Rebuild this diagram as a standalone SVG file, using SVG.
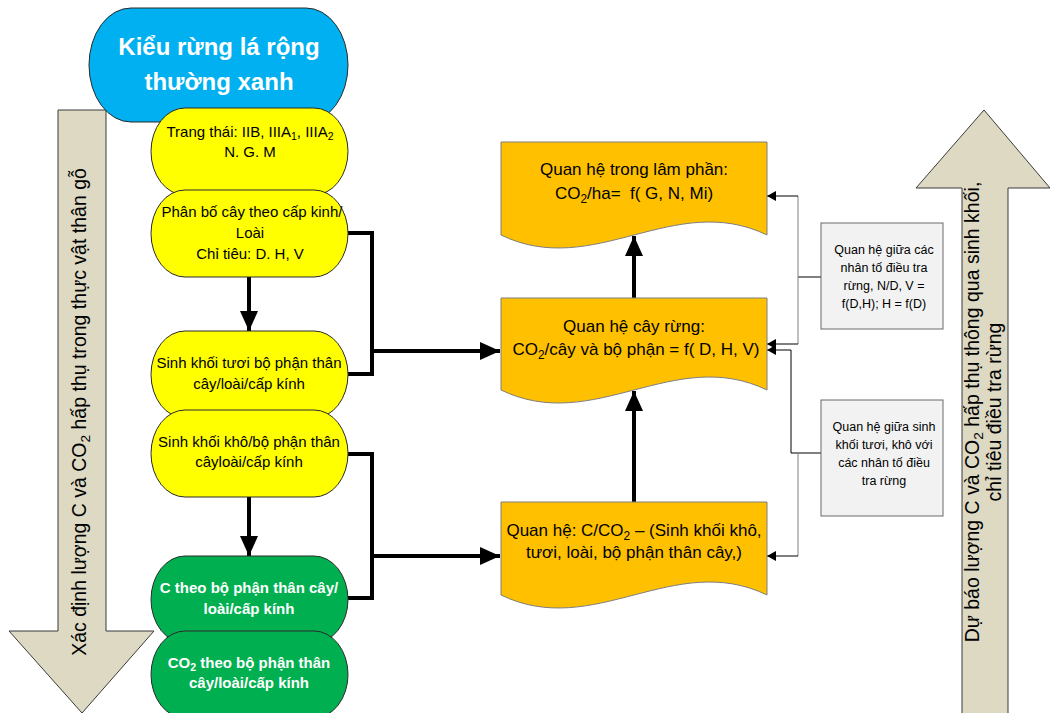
<svg xmlns="http://www.w3.org/2000/svg" width="1050" height="713" viewBox="0 0 1050 713">
<style>
text{font-family:"Liberation Sans",Arial,sans-serif;text-anchor:middle}
.big{fill:#DDD9C3;stroke:#3a3a3a;stroke-width:1}
.term{stroke:#2a2a2a;stroke-width:1}
.blue{fill:#00B0F0}
.yel{fill:#FFFF00}
.grn{fill:#00B050}
.doc{fill:#FFC000;stroke:#7f7f7f;stroke-width:1}
.gbox{fill:#F2F2F2;stroke:#6a6a6a;stroke-width:1}
.t15{font-size:15px;fill:#000}
.w15{font-size:15px;font-weight:bold;fill:#fff}
.t17{font-size:17px;fill:#000}
.t11{font-size:12.5px;fill:#000}
.side{font-size:19.5px;fill:#000}
.sub{font-size:70%}
.thick{fill:none;stroke:#000;stroke-width:4}
.thin{fill:none;stroke:#000;stroke-width:1}
.thing{fill:none;stroke:#808080;stroke-width:1}
</style>
<defs>
<marker id="ah" markerUnits="userSpaceOnUse" markerWidth="20" markerHeight="20" viewBox="0 0 20 20" refX="20" refY="10" orient="auto">
<path d="M0,1 L20,10 L0,19 Z" fill="#000"/>
</marker>
<marker id="as" markerUnits="userSpaceOnUse" markerWidth="9" markerHeight="10" viewBox="0 0 9 10" refX="9" refY="5" orient="auto">
<path d="M0,0 L9,5 L0,10 Z" fill="#000"/>
</marker>
</defs>

<g id="arrow-left">
<polygon class="big" points="58,110 106,110 106,631 154,631 82,713 9,631 58,631"/>
<text class="side" transform="translate(86,412) rotate(-90)">Xác định lượng C và CO<tspan class="sub" dy="4">2</tspan><tspan dy="-4"> hấp thụ trong thực vật thân gỗ</tspan></text>
</g>
<g id="arrow-right">
<polygon class="big" points="984,110 1050,188 1008,188 1008,720 962,720 962,188 916,188"/>
<text class="side" transform="translate(979,412) rotate(-90)">Dự báo lượng C và CO<tspan class="sub" dy="4">2</tspan><tspan dy="-4"> hấp thụ thông qua sinh khối,</tspan></text>
<text class="side" transform="translate(1001,412) rotate(-90)">chỉ tiêu điều tra rừng</text>
</g>

<g id="connectors">
<path class="thick" d="M348,233 H372 V374 H348"/>
<path class="thick" d="M372,351 H500" marker-end="url(#ah)"/>
<path class="thick" d="M348,454 H372 V598 H348"/>
<path class="thick" d="M372,556 H500" marker-end="url(#ah)"/>
<path class="thick" d="M249,277 V331" marker-end="url(#ah)"/>
<path class="thick" d="M249,497 V556" marker-end="url(#ah)"/>
<path class="thick" d="M634,298 V236" marker-end="url(#ah)"/>
<path class="thick" d="M634,502 V391" marker-end="url(#ah)"/>
<path class="thin" d="M821,277 H798"/>
<path class="thing" d="M798,196 V344"/>
<path class="thin" d="M798,196 H767" marker-end="url(#as)"/>
<path class="thin" d="M798,344 H767" marker-end="url(#as)"/>
<path class="thin" d="M821,453 H791 V350 H767" marker-end="url(#as)"/>
<path class="thing" d="M798,453 V556"/>
<path class="thin" d="M798,556 H767" marker-end="url(#as)"/>
</g>

<g id="n-kieu-rung">
<rect class="term blue" x="89" y="8" width="259" height="114" rx="42" ry="57"/>
<text style="font-size:24px;font-weight:bold;fill:#fff" x="219" y="55">Kiểu rừng lá rộng</text>
<text style="font-size:24px;font-weight:bold;fill:#fff" x="219" y="90">thường xanh</text>
</g>
<g id="n-trang-thai">
<rect class="term yel" x="151" y="108" width="197" height="87" rx="34" ry="43.5"/>
<text class="t15" x="250" y="137">Trang thái: IIB, IIIA<tspan class="sub" dy="3">1</tspan><tspan dy="-3">, IIIA</tspan><tspan class="sub" dy="3">2</tspan></text>
<text class="t15" x="250" y="157">N. G. M</text>
</g>
<g id="n-phan-bo">
<rect class="term yel" x="151" y="190" width="197" height="87" rx="34" ry="43.5"/>
<text class="t15" x="252" y="217">Phân bố cây theo cấp kinh/</text>
<text class="t15" x="250" y="238">Loài</text>
<text class="t15" x="250" y="259">Chỉ tiêu: D. H, V</text>
</g>
<g id="n-sk-tuoi">
<rect class="term yel" x="151" y="331" width="197" height="87" rx="34" ry="43.5"/>
<text class="t15" x="249" y="368">Sinh khối tươi bộ phận thân</text>
<text class="t15" x="249" y="389">cây/loài/cấp kính</text>
</g>
<g id="n-sk-kho">
<rect class="term yel" x="151" y="410" width="197" height="87" rx="34" ry="43.5"/>
<text class="t15" x="249" y="447">Sinh khối khô/bộ phận thân</text>
<text class="t15" x="249" y="467">câyloài/cấp kính</text>
</g>
<g id="n-c">
<rect class="term grn" x="151" y="556" width="197" height="87" rx="34" ry="43.5"/>
<text class="w15" x="249" y="593">C theo bộ phận thân cây/</text>
<text class="w15" x="249" y="614">loài/cấp kính</text>
</g>
<g id="n-co2">
<rect class="term grn" x="151" y="631" width="197" height="87" rx="34" ry="43.5"/>
<text class="w15" x="249" y="668">CO<tspan class="sub" dy="3">2</tspan><tspan dy="-3"> theo bộ phận thân</tspan></text>
<text class="w15" x="249" y="688">cây/loài/cấp kính</text>
</g>

<g id="n-lam-phan">
<path class="doc" d="M501,142 H767 V235 C674,190 594,280 501,235 Z"/>
<text class="t17" x="634" y="175">Quan hệ trong lâm phần:</text>
<text class="t17" x="634" y="199" xml:space="preserve">CO<tspan class="sub" dy="4">2</tspan><tspan dy="-4">/ha=  f( G, N, Mi)</tspan></text>
</g>
<g id="n-cay-rung">
<path class="doc" d="M501,298 H767 V390 C674,345 594,435 501,390 Z"/>
<text class="t17" x="634" y="332">Quan hệ cây rừng:</text>
<text class="t17" x="636" y="355">CO<tspan class="sub" dy="4">2</tspan><tspan dy="-4">/cây và bộ phận = f( D, H, V)</tspan></text>
</g>
<g id="n-c-co2">
<path class="doc" d="M501,502 H767 V595 C674,550 594,640 501,595 Z"/>
<text class="t17" x="634" y="536">Quan hệ: C/CO<tspan class="sub" dy="4">2</tspan><tspan dy="-4"> – (Sinh khối khô,</tspan></text>
<text class="t17" x="634" y="558">tươi, loài, bộ phận thân cây,)</text>
</g>

<g id="n-nhan-to">
<rect class="gbox" x="821" y="223" width="122" height="106"/>
<text class="t11" x="884" y="254">Quan hệ giữa các</text>
<text class="t11" x="884" y="272">nhân tố điều tra</text>
<text class="t11" x="884" y="290">rừng, N/D, V =</text>
<text class="t11" x="884" y="308">f(D,H); H = f(D)</text>
</g>
<g id="n-sinh-khoi">
<rect class="gbox" x="821" y="400" width="122" height="116"/>
<text class="t11" x="884" y="431">Quan hệ giữa sinh</text>
<text class="t11" x="884" y="449">khối tươi, khô với</text>
<text class="t11" x="884" y="467">các nhân tố điều</text>
<text class="t11" x="884" y="485">tra rừng</text>
</g>
</svg>
